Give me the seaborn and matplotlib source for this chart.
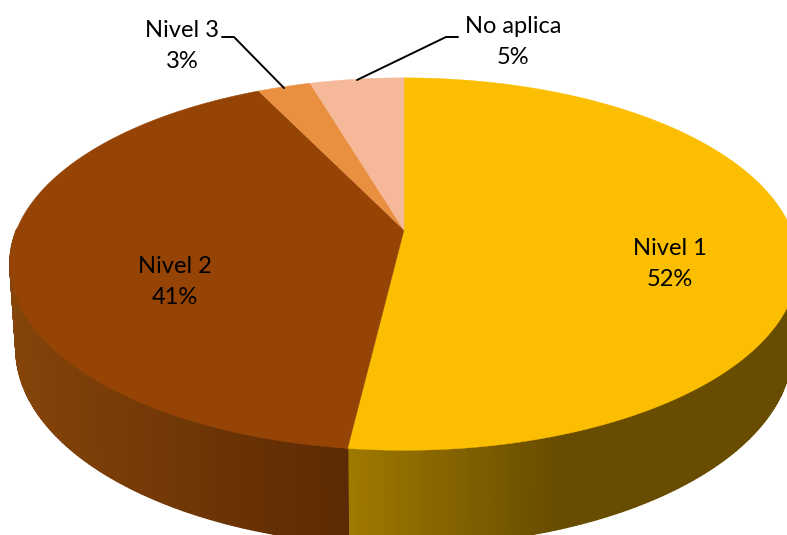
import numpy as np
import seaborn as sns
import matplotlib.pyplot as plt

categories = ['Nivel 1', 'Nivel 2', 'Nivel 3', 'No aplica']
shares = [51.9, 40.9, 2.6, 4.6]
top_colors = ['#FBBE00', '#954405', '#E98F40', '#F5B99A']
side_start = ['#A07A00', '#854409', '#E98F40', '#F5B99A']
side_end = ['#684C00', '#5C2A04', '#E98F40', '#F5B99A']
side_span = [213, 337, 50, 50]

sns.set_theme(style='white')
plt.rcParams['font.family'] = ['Lato', 'DejaVu Sans']

K = 0.183


def project(t, cx, cy, a, b):
    # tilted disc, far edge looks smaller than the near edge
    x, y = np.cos(t), np.sin(t)
    w = 1 + K * y
    return cx + a * x / w, cy - b * y / w


def top(t):
    return project(t, 404, 230, 387.5, 180)


def bottom(t):
    return project(t, 404, 313, 381.5, 190)


fig = plt.figure(figsize=(7.87, 5.35), dpi=100)
ax = fig.add_axes([0, 0, 1, 1])
ax.set_xlim(0, 787)
ax.set_ylim(535, 0)
ax.axis('off')

ends = np.cumsum(shares) / sum(shares) * 2 * np.pi
starts = np.r_[0, ends[:-1]]

# side wall first, the top is painted over it
for i in range(len(shares)):
    grid = np.linspace(np.pi / 2 - starts[i], np.pi / 2 - ends[i], 260)
    colors = sns.blend_palette([side_start[i], side_end[i]], 101)
    if i == 0:
        left = top(grid[-1])[0]
    else:
        left = top(grid[0])[0] - side_span[i]
    for t0, t1 in zip(grid[:-1], grid[1:]):
        if np.sin(t0) > 0 and np.sin(t1) > 0:
            continue
        xt0, yt0 = top(t0)
        xt1, yt1 = top(t1)
        xb0, yb0 = bottom(t0)
        xb1, yb1 = bottom(t1)
        pos = np.clip((xt0 - left) / side_span[i], 0, 1)
        c = colors[int(pos * 100)]
        ax.fill([xt0, xt1, xb1, xb0], [yt0, yt1, yb1, yb0],
                color=c, lw=1.0, zorder=1 + (i == 1))

for i in range(len(shares)):
    grid = np.linspace(np.pi / 2 - starts[i], np.pi / 2 - ends[i], 200)
    xs, ys = top(grid)
    ax.fill(np.r_[404, xs], np.r_[230, ys], color=top_colors[i], lw=0.3, zorder=3)

# labels
ax.text(670, 264, 'Nivel 1\n52%', ha='center', va='center', fontsize=17,
        color='black', linespacing=1.6, zorder=5)
ax.text(175, 282, 'Nivel 2\n41%', ha='center', va='center', fontsize=17,
        color='black', linespacing=1.6, zorder=5)
ax.text(182, 46, 'Nivel 3\n3%', ha='center', va='center', fontsize=17,
        color='black', linespacing=1.6, zorder=5)
ax.text(513, 42, 'No aplica\n5%', ha='center', va='center', fontsize=17,
        color='black', linespacing=1.6, zorder=5)

# leader lines
ax.plot([222, 234, 284], [37, 37, 88], color='black', lw=1.4, zorder=4)
ax.plot([458, 446, 357], [37, 37, 80], color='black', lw=1.4, zorder=4)

fig.savefig('out.png', dpi=100)
